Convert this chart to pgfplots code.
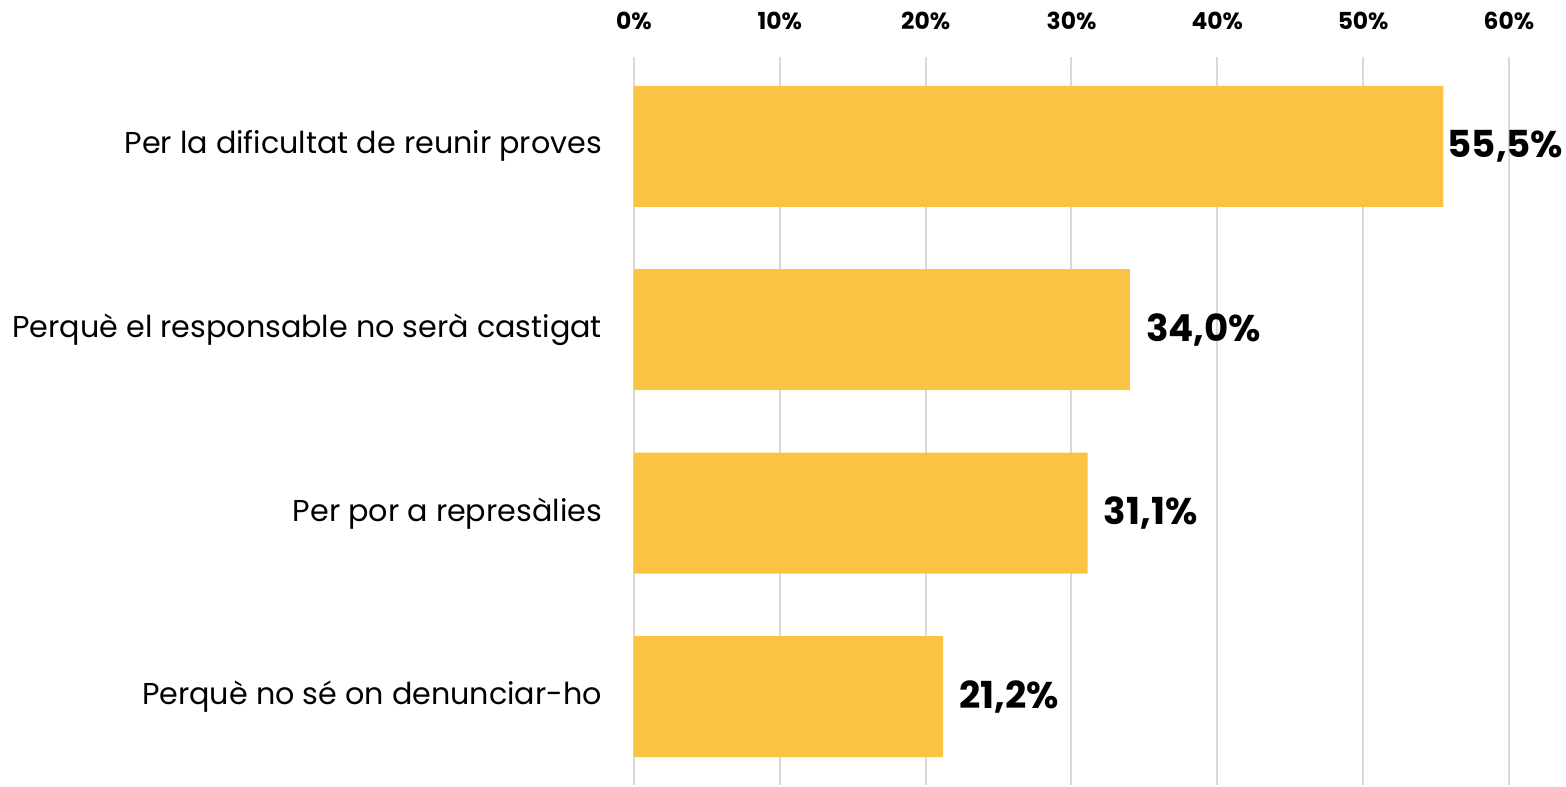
\documentclass[border=0pt]{standalone}
\usepackage{pgfplots}
\pgfplotsset{compat=1.18}
\usepackage{pgfplotstable}
\usepackage{fontspec}
\setmainfont{Poppins}
\definecolor{baryellow}{HTML}{FBC344}
\definecolor{gridgray}{HTML}{D9D9D9}
\pgfplotstableread{
y x dx
0 55.5 2
1 34.0 8
2 31.1 8
3 21.2 8
}\data
\begin{document}
\begin{tikzpicture}
\begin{axis}[
  scale only axis,
  width=437.5pt, height=364pt,
  xmin=0, xmax=60,
  ymin=-0.487, ymax=3.482,
  y dir=reverse,
  axis line style={draw=none},
  xmajorgrids,
  grid style={gridgray, line width=1pt},
  major tick length=0pt,
  xtick={0,10,20,30,40,50,60},
  xticklabels={0\%,10\%,20\%,30\%,40\%,50\%,60\%},
  xticklabel pos=top,
  xticklabel style={font=\fontsize{11.7}{12}\selectfont\bfseries, yshift=10pt},
  ytick={0,1,2,3},
  yticklabels={Per la dificultat de reunir proves,Perquè el responsable no serà castigat,Per por a represàlies,Perquè no sé on denunciar-ho},
  yticklabel style={font=\fontsize{15.1}{17}\selectfont, xshift=-12.5pt},
  /pgf/number format/assume math mode=true,
  clip=false,
]
\addplot[xbar, bar width=60.5pt, fill=baryellow, draw=none,
  point meta=x,
  visualization depends on={\thisrow{dx} \as \dx},
  nodes near coords={\pgfmathprintnumber[fixed, fixed zerofill, precision=1, use comma]{\pgfplotspointmeta}\%},
  nodes near coords style={anchor=west, inner sep=0pt, font=\fontsize{18.6}{20}\selectfont\bfseries, text=black},
  every node near coord/.append style={xshift=\dx pt},
] table[x=x, y=y] {\data};
\coordinate (O) at (rel axis cs:0,0);
\end{axis}
\pgfresetboundingbox
\path (O) ++(-317pt,-0.5pt) rectangle ++(783pt,393pt);
\end{tikzpicture}
\end{document}
